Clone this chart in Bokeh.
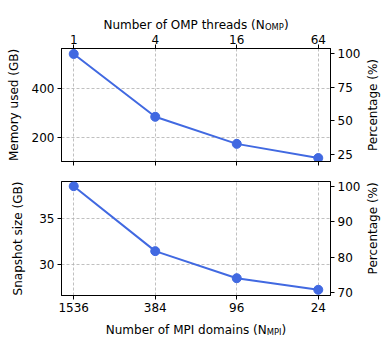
import math
from bokeh.plotting import figure
from bokeh.models import Range1d, LinearAxis, FixedTicker
from bokeh.core.properties import value
from bokeh.layouts import column, row
from bokeh.embed import file_html
from bokeh.resources import INLINE

# ---- data ----
n_mpi = ["1536", "384", "96", "24"]
n_omp = ["1", "4", "16", "64"]
memory_gb = [538, 285, 176, 119]
snapshot_gb = [38.54, 31.48, 28.54, 27.28]

mem_ticks = [200, 400]
mem_pct_ticks = [25, 50, 75, 100]
snap_ticks = [30, 35]
snap_pct_ticks = [70, 80, 90, 100]

xs = list(range(len(n_mpi)))
FONT = "DejaVu Sans"
FS = "12px"
COLOR = "#4169E1"
LEFT, RIGHT, FRAME_W, RLAB_W = 61, 32, 269, 20
XR = (-0.15, 3.15)


def style_axis(ax, ticks=None, show_labels=True, standoff=3):
    ax.major_tick_out = 4
    ax.major_tick_in = 0
    ax.minor_tick_out = 0
    ax.minor_tick_in = 0
    ax.major_tick_line_color = "black"
    ax.axis_line_color = "black"
    ax.major_label_text_font = FONT
    ax.major_label_text_font_size = FS
    ax.major_label_text_color = "black" if show_labels else None
    ax.axis_label_text_font = FONT
    ax.axis_label_text_font_size = FS
    ax.axis_label_text_font_style = "normal"
    ax.axis_label_text_color = "black"
    ax.major_label_standoff = standoff
    if ticks is not None:
        ax.ticker = FixedTicker(ticks=ticks)


def make_panel(values, yr, lticks, pticks, ylabel, top, frame_h, b_top, b_bottom, lstandoff):
    first = values[0]
    p = figure(frame_width=FRAME_W, frame_height=frame_h, output_backend="svg", toolbar_location=None,
               x_range=Range1d(*XR), y_range=Range1d(*yr),
               x_axis_location="above" if top else "below",
               min_border_left=LEFT, min_border_right=RIGHT,
               min_border_top=b_top, min_border_bottom=b_bottom)
    p.extra_y_ranges = {"pct": Range1d(yr[0] / first * 100, yr[1] / first * 100)}
    p.outline_line_color = "black"
    p.outline_line_width = 1
    p.outline_line_alpha = 1
    p.background_fill_color = "white"
    p.border_fill_color = "white"

    xa = p.xaxis[0]
    style_axis(xa, ticks=xs, standoff=1 if top else 3)
    xa.major_label_overrides = {i: t for i, t in enumerate(n_omp if top else n_mpi)}
    if top:
        bx = LinearAxis()
        style_axis(bx, ticks=xs, show_labels=False)
        p.add_layout(bx, "below")

    ya = p.yaxis[0]
    style_axis(ya, ticks=lticks)
    ya.axis_label = ylabel
    ya.axis_label_standoff = lstandoff
    ra = LinearAxis(y_range_name="pct")
    style_axis(ra, ticks=pticks)
    p.add_layout(ra, "right")

    for g in (p.xgrid[0], p.ygrid[0]):
        g.grid_line_color = "#b0b0b0"
        g.grid_line_dash = "3 2"
        g.grid_line_width = 0.8
    p.xgrid[0].ticker = FixedTicker(ticks=xs)
    p.ygrid[0].ticker = FixedTicker(ticks=lticks)

    p.line(xs, values, line_color=COLOR, line_width=2)
    p.scatter(xs, values, size=9, fill_color=COLOR, line_color=COLOR)
    return p


def bare_fig(xr, yr, **kw):
    t = figure(output_backend="svg", toolbar_location=None,
               x_range=Range1d(*xr), y_range=Range1d(*yr),
               x_axis_type=None, y_axis_type=None, **kw)
    t.outline_line_color = None
    t.xgrid.visible = False
    t.ygrid.visible = False
    t.border_fill_color = "white"
    return t


def title_fig(h, baseline_from_top, main, sub, total, main_w, sub_w):
    t = bare_fig(XR, (0, h), frame_width=FRAME_W, frame_height=h,
                 min_border_left=LEFT, min_border_right=RIGHT + RLAB_W,
                 min_border_top=0, min_border_bottom=0)
    cx = (XR[0] + XR[1]) / 2
    start = -total / 2
    yb = h - baseline_from_top
    common = dict(text_font=value(FONT), text_color="black",
                  text_baseline="alphabetic", text_align="left")
    t.text(x=[cx], y=[yb], x_offset=start, text=[main], text_font_size=value("12px"), **common)
    t.text(x=[cx], y=[yb - 2], x_offset=start + main_w, text=[sub], text_font_size=value("8.4px"), **common)
    t.text(x=[cx], y=[yb], x_offset=start + main_w + sub_w, text=[")"], text_font_size=value("12px"), **common)
    return t


def rlab_fig(h, center_from_top):
    r = bare_fig((0, RLAB_W), (0, h), width=RLAB_W, height=h, min_border=0)
    r.text(x=[9.7], y=[h - center_from_top], text=["Percentage (%)"], angle=math.pi / 2,
           text_font=value(FONT), text_font_size=value("12px"), text_color="black",
           text_align="center", text_baseline="middle")
    return r


# widths computed from DejaVu Sans advance widths
t1 = title_fig(30, 24, "Number of OMP threads (N", "OMP", 185.2, 161.6, 18.9)
p1 = make_panel(memory_gb, (105, 560), mem_ticks, mem_pct_ticks, "Memory used (GB)",
                True, 113, 18, 20, 8)
p2 = make_panel(snapshot_gb, (26.66, 39.05), snap_ticks, snap_pct_ticks, "Snapshot size (GB)",
                False, 114, 0, 21, 11)
r1 = rlab_fig(151, 18 + 113 / 2 + 1)
r2 = rlab_fig(135, 114 / 2 - 1.5)
t2 = title_fig(31, 13, "Number of MPI domains (N", "MPI", 180.5, 161.0, 14.8)

layout = column(t1, row(p1, r1, spacing=0), row(p2, r2, spacing=0), t2, spacing=0)
open("out.html", "w").write(file_html(layout, INLINE))
